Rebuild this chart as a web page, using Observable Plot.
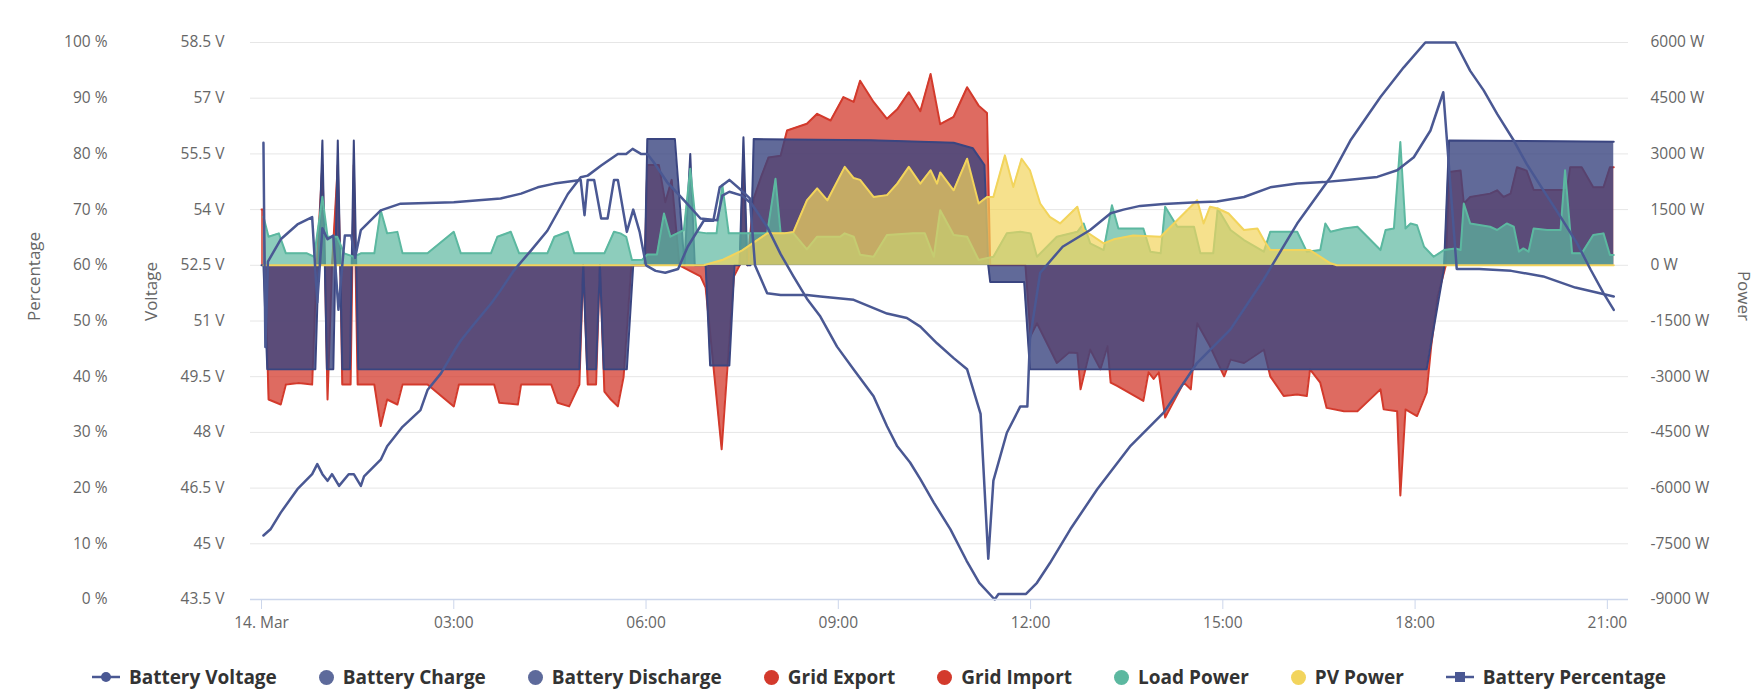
<!DOCTYPE html>
<html>
<head>
<meta charset="utf-8">
<script src="https://cdn.jsdelivr.net/npm/d3@7"></script>
<script src="https://cdn.jsdelivr.net/npm/@observablehq/plot@0.6"></script>
<style>
  body { margin: 0; background: #fff; font-family: "Open Sans", sans-serif; }
  #legend { display: flex; justify-content: center; gap: 42px; font-weight: 700; font-size: 19px; color: #333; margin-top: 14px; }
  #legend span { display: inline-flex; align-items: center; gap: 9px; }
  .dot { width: 15px; height: 15px; border-radius: 50%; display: inline-block; }
</style>
</head>
<body>
<div id="chart"></div>
<div id="legend"></div>
<script>
// time in hours since 14. Mar 00:00
const xTicks = [0, 3, 6, 9, 12, 15, 18, 21]
const powerTicks = d3.range(-9000, 6001, 1500)

const batteryPower = [[0,0],[0.03,0],[0.09,-2800],[0.84,-2800],[0.95,3360],[1.02,-2800],[1.12,-2800],[1.19,3360],[1.26,-2800],[1.38,-2800],[1.44,3360],[1.51,-2800],[4.96,-2800],[5.02,0],[5.08,-2800],[5.22,-2800],[5.28,0],[5.34,-2800],[5.7,-2800],[5.8,0],[5.98,0],[6.02,3400],[6.45,3400],[6.6,0],[6.69,3000],[6.76,0],[6.93,0],[7.0,-2700],[7.3,-2700],[7.38,0],[7.46,0],[7.52,3450],[7.58,0],[7.63,0],[7.68,3400],[9.5,3370],[10.8,3300],[11.1,3150],[11.28,2700],[11.34,0],[11.37,-450],[11.9,-450],[11.99,-2800],[18.18,-2800],[18.45,-100],[18.53,3360],[21.1,3330]]

const gridPower = [[0,1500],[0.03,1500],[0.11,-3614],[0.3,-3748],[0.38,-3211],[0.58,-3167],[0.79,-3211],[0.86,0],[0.95,2700],[0.99,0],[1.03,-3614],[1.1,0],[1.19,2700],[1.23,0],[1.26,-3211],[1.39,-3211],[1.44,2700],[1.5,-3211],[1.76,-3211],[1.86,-4330],[1.96,-3614],[2.12,-3748],[2.2,-3211],[2.59,-3211],[3.0,-3800],[3.08,-3211],[3.63,-3211],[3.71,-3700],[4.0,-3748],[4.05,-3211],[4.52,-3211],[4.62,-3700],[4.8,-3800],[4.96,-3211],[5.02,0],[5.09,-3211],[5.22,-3211],[5.28,0],[5.35,-3400],[5.45,-3614],[5.56,-3800],[5.65,-3000],[5.77,0],[5.98,0],[6.02,2700],[6.2,2700],[6.3,1700],[6.4,2300],[6.52,0],[6.85,-300],[6.93,-600],[7.18,-4955],[7.37,-300],[7.46,0],[7.52,2600],[7.58,0],[7.68,1800],[7.8,2400],[7.91,2900],[8.1,2950],[8.2,3630],[8.51,3810],[8.67,4080],[8.88,3900],[9.08,4530],[9.24,4400],[9.34,4970],[9.55,4400],[9.76,3945],[9.92,4200],[10.1,4660],[10.28,4150],[10.44,5150],[10.59,3800],[10.8,4000],[11.01,4795],[11.19,4300],[11.32,4100],[11.37,0],[11.92,0],[12.0,-1900],[12.1,-1560],[12.41,-2630],[12.6,-2350],[12.73,-2360],[12.78,-3340],[12.93,-2270],[13.09,-2800],[13.2,-2180],[13.25,-3160],[13.35,-3250],[13.76,-3650],[13.84,-2880],[13.92,-3060],[14.0,-2880],[14.1,-4100],[14.39,-3160],[14.5,-3340],[14.6,-1560],[14.8,-2180],[15.02,-2990],[15.12,-2540],[15.33,-2630],[15.64,-2270],[15.74,-2990],[15.95,-3520],[16.16,-3480],[16.31,-3520],[16.36,-2800],[16.52,-3160],[16.62,-3840],[16.89,-3930],[17.1,-3930],[17.46,-3340],[17.51,-3880],[17.72,-3930],[17.77,-6200],[17.85,-3880],[18.03,-4060],[18.18,-3430],[18.25,-2200],[18.35,-850],[18.48,0],[18.53,2510],[18.71,2550],[18.76,1660],[18.86,1840],[19.17,1930],[19.28,2020],[19.38,1840],[19.49,1930],[19.59,2640],[19.74,2550],[19.85,2030],[20.37,2030],[20.42,2640],[20.6,2640],[20.78,2100],[20.94,2100],[21.04,2640],[21.1,2640]]

const loadPower = [[0.03,1306],[0.11,769],[0.27,860],[0.38,322],[0.71,322],[0.82,230],[0.95,1843],[1.03,769],[1.18,769],[1.29,322],[1.44,230],[1.55,322],[1.76,322],[1.86,1485],[1.96,860],[2.12,900],[2.2,322],[2.59,322],[3.0,903],[3.11,322],[3.58,322],[3.68,769],[3.89,903],[4.02,322],[4.46,322],[4.57,769],[4.78,903],[4.88,322],[5.35,322],[5.5,903],[5.6,860],[5.69,769],[5.78,143],[5.94,150],[6.02,290],[6.17,290],[6.28,1395],[6.38,770],[6.59,950],[6.69,2600],[6.79,900],[6.95,860],[7.1,860],[7.19,2170],[7.29,860],[7.6,860],[7.89,860],[8.02,2330],[8.1,860],[8.3,860],[8.51,430],[8.67,770],[9.03,770],[9.1,860],[9.24,770],[9.34,285],[9.55,230],[9.76,814],[10.17,860],[10.35,860],[10.49,230],[10.59,1485],[10.8,814],[11.01,770],[11.19,143],[11.42,230],[11.63,860],[11.84,903],[12.0,860],[12.1,230],[12.41,769],[12.73,903],[12.83,1127],[12.93,590],[13.14,410],[13.27,1620],[13.37,993],[13.76,993],[13.87,367],[14.03,322],[14.1,1575],[14.29,1038],[14.55,1038],[14.65,322],[14.85,322],[14.92,1530],[15.12,950],[15.33,680],[15.64,367],[15.74,903],[16.16,903],[16.31,367],[16.52,410],[16.6,1127],[16.68,903],[16.89,993],[17.1,1038],[17.46,410],[17.54,950],[17.67,993],[17.77,3320],[17.85,993],[17.93,1127],[18.03,1080],[18.14,500],[18.29,230],[18.45,410],[18.63,455],[18.71,410],[18.76,1664],[18.86,1127],[19.17,1038],[19.28,950],[19.43,1127],[19.54,1038],[19.62,367],[19.69,455],[19.77,367],[19.85,993],[20.06,950],[20.27,950],[20.34,2558],[20.45,322],[20.6,322],[20.78,814],[20.94,860],[21.04,277],[21.1,277]]

const pvPower = [[0.03,0],[6.9,0],[7.2,150],[7.5,400],[7.89,860],[8.15,860],[8.3,900],[8.51,1750],[8.67,2070],[8.83,1750],[9.1,2650],[9.24,2350],[9.34,2300],[9.55,1840],[9.76,1890],[9.92,2200],[10.1,2650],[10.28,2200],[10.44,2560],[10.54,2200],[10.59,2500],[10.8,2020],[11.01,2870],[11.19,1664],[11.32,1840],[11.42,1840],[11.6,2960],[11.73,2110],[11.86,2870],[11.99,2560],[12.15,1664],[12.3,1306],[12.46,1127],[12.73,1575],[12.83,950],[13.14,590],[13.3,700],[13.6,800],[14.03,770],[14.6,1750],[14.7,1127],[14.8,1575],[14.92,1530],[15.09,1395],[15.33,950],[15.54,990],[15.64,680],[15.74,410],[16.06,410],[16.36,410],[16.68,54],[16.78,0],[21.1,0]]

const batteryVoltage = [[0.03,55.8],[0.06,50.3],[0.1,52.6],[0.3,53.2],[0.56,53.6],[0.79,53.8],[0.87,51.5],[0.95,53.5],[1.03,53.2],[1.12,53.3],[1.2,51.3],[1.3,53.3],[1.4,53.3],[1.46,52.7],[1.55,53.45],[1.86,53.98],[2.17,54.16],[3.0,54.2],[3.73,54.3],[4.05,54.43],[4.31,54.6],[4.57,54.7],[4.98,54.8],[5.04,53.85],[5.09,54.8],[5.19,54.8],[5.3,53.76],[5.4,53.76],[5.5,54.8],[5.56,54.8],[5.7,53.4],[5.8,54.0],[5.9,53.4],[6.0,52.5],[6.15,52.35],[6.3,52.3],[6.5,52.4],[6.65,53.0],[6.9,53.7],[7.05,53.7],[7.15,54.6],[7.3,54.8],[7.5,54.5],[7.62,54.3],[7.7,52.5],[7.89,51.75],[8.1,51.7],[8.51,51.7],[8.72,51.66],[9.24,51.57],[9.76,51.2],[10.07,51.08],[10.28,50.85],[10.54,50.4],[10.8,50.0],[11.01,49.7],[11.22,48.5],[11.34,44.6],[11.42,46.7],[11.63,47.99],[11.84,48.7],[11.95,48.7],[11.99,50.5],[12.15,52.3],[12.5,53.0],[12.93,53.45],[13.25,53.9],[13.45,54.0],[13.71,54.1],[14.08,54.15],[14.6,54.2],[14.91,54.22],[15.33,54.34],[15.74,54.6],[16.16,54.7],[16.57,54.74],[16.94,54.8],[17.41,54.88],[17.72,55.06],[17.98,55.41],[18.24,56.13],[18.44,57.16],[18.65,52.4],[19.0,52.4],[19.5,52.35],[20.0,52.2],[20.5,51.9],[21.0,51.7],[21.1,51.66]]

const batteryPercentage = [[0.03,11.5],[0.14,12.6],[0.3,15.6],[0.56,19.8],[0.79,22.5],[0.87,24.3],[0.95,22.5],[1.03,21.3],[1.1,22.5],[1.21,20.4],[1.36,22.5],[1.44,22.5],[1.55,20.4],[1.6,22.1],[1.86,25.1],[1.96,27.5],[2.2,31.0],[2.48,34.0],[2.59,37.6],[2.8,40.6],[3.01,44.7],[3.11,46.5],[3.32,49.5],[3.58,53.1],[3.73,55.5],[3.94,59.1],[4.2,62.6],[4.46,66.2],[4.78,72.8],[4.98,75.8],[5.09,76.1],[5.3,77.9],[5.56,80.0],[5.69,80.0],[5.79,80.9],[5.92,80.0],[6.02,80.0],[6.12,78.5],[6.33,74.9],[6.59,71.7],[6.85,68.4],[7.11,68.1],[7.19,72.5],[7.3,73.2],[7.5,72.5],[7.65,71],[7.89,66.9],[8.1,62],[8.3,58],[8.51,54],[8.72,50.8],[8.98,45.4],[9.24,41.3],[9.55,36.5],[9.76,31.1],[9.92,27.5],[10.12,24.6],[10.28,21.6],[10.49,17.4],[10.75,12.6],[11.0,7],[11.2,3],[11.44,0],[11.5,1],[11.93,1],[12.1,3],[12.3,6.5],[12.62,12.6],[13.04,19.8],[13.56,27.6],[14.08,33.6],[14.6,42.5],[15.12,48.5],[15.64,57.5],[16.16,67.5],[16.68,75.8],[16.99,82.4],[17.46,90.2],[17.82,95.5],[18.16,100],[18.63,100],[18.86,94.9],[19.07,91.4],[19.28,87.2],[19.54,82.4],[19.74,78.2],[20.0,73.5],[20.27,68.7],[20.53,63.9],[20.74,59.2],[20.94,55.0],[21.1,52.0]]

// voltage and percentage share the power scale (same gridlines)
const fromVolt = v => (v - 43.5) * 1000 - 9000
const fromPct = p => p * 150 - 9000

const navy = "#3a4580", red = "#d33a2c", teal = "#5cb8a0", yellow = "#f2d45c", lineNavy = "#4a5893"
const tx = d => d[0], ty = d => d[1]
const axisText = "#666"

const area = (data, color, op) => [
  Plot.areaY(data, {x: tx, y1: 0, y2: ty, fill: color, fillOpacity: op}),
  Plot.lineY(data, {x: tx, y: ty, stroke: color, strokeWidth: 2})
]

const chart = Plot.plot({
  width: 1758,
  height: 650,
  marginLeft: 250,
  marginRight: 130,
  marginTop: 42,
  marginBottom: 51,
  x: {domain: [-0.172, 21.33]},
  y: {domain: [-9000, 6000]},
  style: {fontFamily: "'Open Sans', sans-serif", fontSize: "15.5px", overflow: "visible"},
  marks: [
    Plot.gridY(powerTicks, {stroke: "#e6e6e6", strokeOpacity: 1}),
    ...area(gridPower, red, 0.75),
    ...area(batteryPower, navy, 0.8),
    ...area(loadPower, teal, 0.7),
    ...area(pvPower, yellow, 0.7),
    Plot.lineY(batteryVoltage, {x: tx, y: d => fromVolt(d[1]), stroke: lineNavy, strokeWidth: 2.5}),
    Plot.lineY(batteryPercentage, {x: tx, y: d => fromPct(d[1]), stroke: lineNavy, strokeWidth: 2.5}),
    Plot.ruleY([-9000], {stroke: "#ccd6eb", strokeWidth: 1.5}),
    Plot.axisX(xTicks, {tickSize: 10, tickPadding: 7, stroke: "#ccd6eb", fill: axisText, label: null,
      tickFormat: d => d === 0 ? "14. Mar" : String(d).padStart(2, "0") + ":00"}),
    Plot.axisY(powerTicks, {anchor: "left", tickSize: 0, tickPadding: 26, fill: axisText, label: null,
      tickFormat: d => +(43.5 + (d + 9000) / 1000).toFixed(1) + " V"}),
    Plot.axisY(powerTicks, {anchor: "left", tickSize: 0, tickPadding: 143, fill: axisText, label: null,
      tickFormat: d => Math.round((d + 9000) / 150) + " %"}),
    Plot.axisY(powerTicks, {anchor: "right", tickSize: 0, tickPadding: 22, fill: axisText, label: null,
      tickFormat: d => d + " W"}),
    Plot.text(["Percentage"], {text: d => d, frameAnchor: "left", dx: -216, rotate: -90, fontSize: 17, fill: axisText}),
    Plot.text(["Voltage"], {text: d => d, frameAnchor: "left", dx: -99, rotate: -90, fontSize: 17, fill: axisText}),
    Plot.text(["Power"], {text: d => d, frameAnchor: "right", dx: 115, rotate: 90, fontSize: 17, fill: axisText})
  ]
})
d3.select('#chart').append(() => chart)

// legend
const legendItems = [
  ["Battery Voltage", lineNavy, "line-dot"],
  ["Battery Charge", "#5d6a9b", "dot"],
  ["Battery Discharge", "#5d6a9b", "dot"],
  ["Grid Export", red, "dot"],
  ["Grid Import", red, "dot"],
  ["Load Power", teal, "dot"],
  ["PV Power", yellow, "dot"],
  ["Battery Percentage", lineNavy, "line-square"]
]
const legend = d3.select('#legend')
legendItems.forEach(([name, color, kind]) => {
  const item = legend.append('span')
  if (kind === "dot") {
    item.append('i').attr('class', 'dot').style('background', color)
  } else {
    const svg = item.append('svg').attr('width', 28).attr('height', 14)
    svg.append('line').attr('x1', 0).attr('x2', 28).attr('y1', 7).attr('y2', 7).attr('stroke', color).attr('stroke-width', 2.5)
    if (kind === "line-dot") svg.append('circle').attr('cx', 14).attr('cy', 7).attr('r', 5).attr('fill', color)
    else svg.append('rect').attr('x', 9).attr('y', 2).attr('width', 10).attr('height', 10).attr('fill', color)
  }
  item.append('span').text(name)
})
</script>
</body>
</html>
